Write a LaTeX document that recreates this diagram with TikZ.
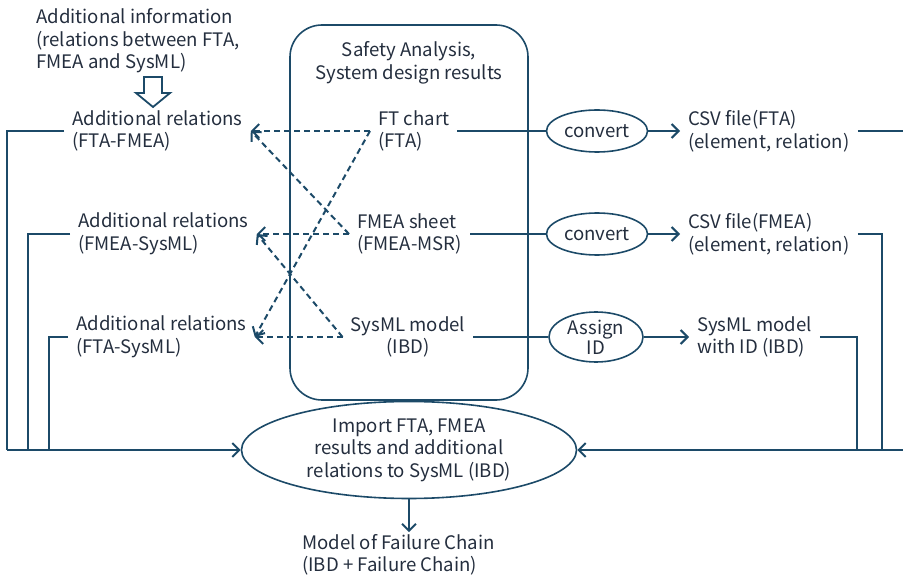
\documentclass[tikz,border=0pt]{standalone}
\usepackage{fontspec}
\setmainfont{Noto Sans CJK JP}
\usetikzlibrary{arrows.meta,shapes.geometric}
\definecolor{ln}{RGB}{28,74,104}
\definecolor{tx}{RGB}{36,46,62}

\begin{document}
\begin{tikzpicture}[x=1pt,y=-1pt,
  every node/.style={text=tx, font=\fontsize{18.6}{22.5}\selectfont},
  lbl/.style={inner xsep=8pt, inner ysep=2pt, align=left},
  oval/.style={ellipse, draw=ln, line width=1.6pt, inner sep=0pt, align=center},
  link/.style={draw=ln, line width=2pt},
  tip/.style={-{Straight Barb[length=7pt,width=14pt,line width=2pt]}},
  dlink/.style={link, dash pattern=on 6pt off 4pt, tip}
]
\useasboundingbox (0,0) rectangle (903,577);

% container for the analysis results
\draw[ln, line width=1.6pt, rounded corners=32pt] (290,25) rectangle (528,400);
\node[align=center] (title) at (409,63) {Safety Analysis,\\System design results};

% input information and its hollow arrow
\node[lbl, anchor=west] (info) at (28,41)
  {Additional information\\(relations between FTA,\\FMEA and SysML)};
\draw[ln, line width=1.8pt, fill=white, line join=miter]
  (144,77) -- (162,77) -- (162,93) -- (170,93) -- (153,107)
  -- (136,93) -- (144,93) -- cycle;

% additional relation sets
\node[lbl, anchor=west] (ar1) at (64,131) {Additional relations\\(FTA-FMEA)};
\node[lbl, anchor=west] (ar2) at (70,234) {Additional relations\\(FMEA-SysML)};
\node[lbl, anchor=west] (ar3) at (68,337) {Additional relations\\(FTA-SysML)};

% analysis artefacts
\node[lbl, anchor=west] (ft) at (370,131) {FT chart\\(FTA)};
\node[lbl, anchor=west] (fm) at (349,234) {FMEA sheet\\(FMEA-MSR)};
\node[lbl, align=center] (sy) at (408,337) {SysML model\\(IBD)};

% processing steps
\node[oval, minimum width=101pt, minimum height=42pt] (cv1) at (597,131) {convert};
\node[oval, minimum width=101pt, minimum height=42pt] (cv2) at (597,234) {convert};
\node[oval, minimum width=94pt, minimum height=50pt,
      font=\fontsize{18.6}{20}\selectfont] (asg) at (596,337) {Assign\\ID};

% outputs
\node[lbl, anchor=west] (csv1) at (680,131) {CSV file(FTA)\\(element, relation)};
\node[lbl, anchor=west] (csv2) at (680,234) {CSV file(FMEA)\\(element, relation)};
\node[lbl, anchor=west] (sid) at (689,337) {SysML model\\with ID (IBD)};

% import step and result
\node[oval, minimum width=335pt, minimum height=97pt] (imp) at (409,450)
  {Import FTA, FMEA\\results and additional\\relations to SysML (IBD)};
\node[lbl, anchor=west] (res) at (294,555) {Model of Failure Chain\\(IBD + Failure Chain)};

% dashed relation arrows
\draw[dlink] (ft.west) -- (ar1.east);
\draw[dlink] (ft.west) -- (ar3.east);
\draw[dlink] (fm.west) -- (ar2.east);
\draw[dlink] (fm.west) -- (ar1.east);
\draw[dlink] (sy.west) -- (ar3.east);
\draw[dlink] (sy.west) -- (ar2.east);

% conversion flow
\draw[link] (ft.east) -- (cv1.west);
\draw[link] (fm.east) -- (cv2.west);
\draw[link] (sy.east) -- (asg.west);
\draw[link, tip] (cv1.east) -- (csv1.west);
\draw[link, tip] (cv2.east) -- (csv2.west);
\draw[link, tip] (asg.east) -- (sid.west);

% collecting lines on the left
\coordinate (jl1) at (7,450);
\coordinate (jl2) at (28,450);
\coordinate (jl3) at (49,450);
\draw[link] (ar1.west) -| (jl1);
\draw[link] (ar2.west) -| (jl2);
\draw[link] (ar3.west) -| (jl3);
\draw[link, tip] (jl1) -- (imp.west);

% collecting lines on the right
\coordinate (jr1) at (905,450);
\coordinate (jr2) at (882,450);
\coordinate (jr3) at (857,450);
\draw[link] (csv1.east) -| (jr1);
\draw[link] (csv2.east) -| (jr2);
\draw[link] (sid.east) -| (jr3);
\draw[link, tip] (jr1) -- (imp.east);

% result arrow
\draw[link, tip] (imp.south) -- (imp.south |- res.north);
\end{tikzpicture}
\end{document}
